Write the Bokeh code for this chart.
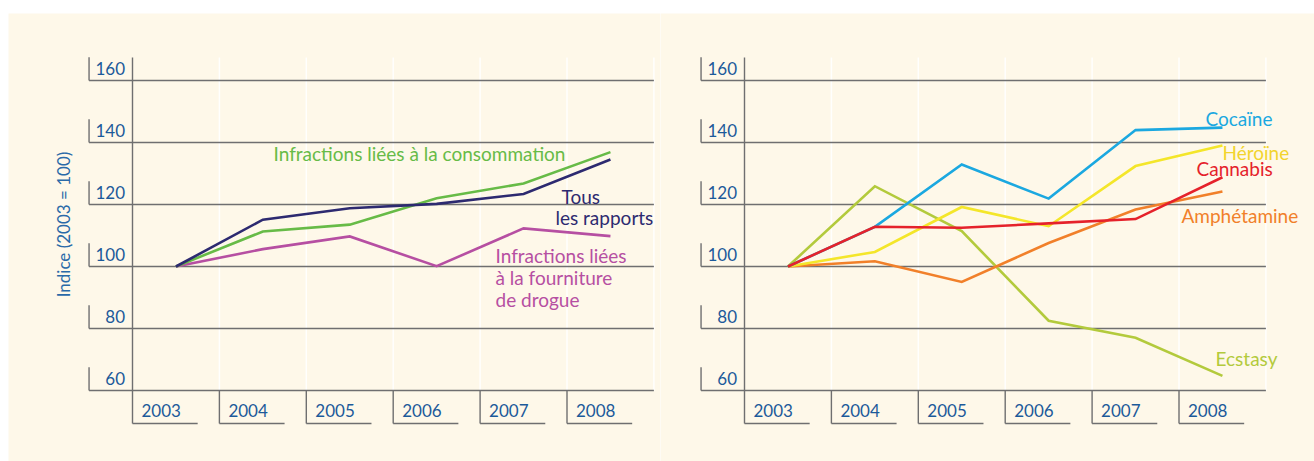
from bokeh.plotting import figure
from bokeh.layouts import row
from bokeh.models import Range1d
from bokeh.core.properties import value
from bokeh.embed import file_html
from bokeh.resources import INLINE

# ---------------- data ----------------
years = ["2003", "2004", "2005", "2006", "2007", "2008"]
y_ticks = [60, 80, 100, 120, 140, 160]
y_title = "Indice (2003 = 100)"

# left panel
tous_rapports = [100, 115.1, 118.8, 120.2, 123.4, 134.5]
consommation = [100, 111.3, 113.5, 122.0, 126.8, 136.9]
fourniture = [100, 105.6, 109.7, 100.1, 112.3, 109.8]

# right panel
cocaine = [100, 112.8, 132.9, 121.9, 144.0, 144.8]
heroine = [100, 104.7, 119.2, 113.0, 132.4, 139.0]
cannabis = [100, 112.8, 112.5, 113.9, 115.3, 128.8]
amphetamine = [100, 101.7, 95.0, 107.6, 118.4, 124.2]
ecstasy = [100, 125.9, 111.4, 82.5, 77.0, 64.7]

# ---------------- style ----------------
CREAM = "#fef8e9"
GRID = "#6f6f70"
TICK = "#1c5a9a"
FONT = "Lato"
PX_CAT = 86.9     # px per category
PX_UNIT = 3.1     # px per index unit
H = 461
TOP_PAD = 13
Y100 = 266        # page y of the 100 line

frame_h = H - TOP_PAD
y_top = 100 + (Y100 - TOP_PAD) / PX_UNIT
y_bot = y_top - frame_h / PX_UNIT
AX_TOP = 100 + (Y100 - 57) / PX_UNIT
BOX_BOT = 100 - (423 - Y100) / PX_UNIT
n = len(years)
xs = list(range(n))


def lx(px, c):
    return (px - c) / PX_CAT


def ly(py):
    return 100 + (Y100 - py) / PX_UNIT


def panel(width, page_left, border_left, center, series, labels, title=None):
    frame_left = page_left + border_left
    x0 = (frame_left - center) / PX_CAT
    x1 = x0 + (width - border_left) / PX_CAT
    p = figure(width=width, height=H, x_range=Range1d(x0, x1), y_range=Range1d(y_bot, y_top),
               x_axis_type=None, y_axis_type=None, toolbar_location=None,
               output_backend="svg", min_border_left=border_left, min_border_right=0,
               min_border_top=TOP_PAD, min_border_bottom=0,
               background_fill_color=CREAM, border_fill_color="white",
               outline_line_color=None)
    p.title.visible = False
    lo = y_ticks[0]
    # faint white category separators
    p.segment(x0=[i - 0.5 for i in range(1, n + 1)], x1=[i - 0.5 for i in range(1, n + 1)],
              y0=[lo] * n, y1=[AX_TOP] * n, line_color="white", line_width=1.5, line_alpha=0.9)
    # horizontal gridlines
    p.segment(x0=[-1.0] * len(y_ticks), x1=[n - 0.5] * len(y_ticks), y0=y_ticks, y1=y_ticks,
              line_color=GRID, line_width=1.4)
    # tick brackets
    p.segment(x0=[-1.0] * len(y_ticks), x1=[-1.0] * len(y_ticks), y0=y_ticks,
              y1=[t + 7.5 for t in y_ticks], line_color=GRID, line_width=1.4)
    # main vertical axis
    p.segment(x0=[-0.5], x1=[-0.5], y0=[BOX_BOT], y1=[AX_TOP], line_color=GRID, line_width=1.4)
    # category boxes
    p.segment(x0=[i - 0.5 for i in range(1, n)], x1=[i - 0.5 for i in range(1, n)],
              y0=[BOX_BOT] * (n - 1), y1=[lo] * (n - 1), line_color=GRID, line_width=1.4)
    p.segment(x0=[i - 0.5 for i in xs], x1=[i - 0.5 + 0.75 for i in xs],
              y0=[BOX_BOT] * n, y1=[BOX_BOT] * n, line_color=GRID, line_width=1.4)
    # tick labels
    p.text(x=[-0.5 - 7.5 / PX_CAT] * len(y_ticks), y=[t + 12 / PX_UNIT for t in y_ticks],
           text=[str(t) for t in y_ticks], text_align="right", text_baseline="middle",
           text_font=value(FONT), text_font_size="17px", text_color=TICK)
    p.text(x=[i - 0.5 + 9 / PX_CAT for i in xs], y=[ly(410)] * n,
           text=years, text_align="left", text_baseline="middle",
           text_font=value(FONT), text_font_size="17px", text_color=TICK)
    # series
    for vals, color in series:
        p.line(xs, vals, line_color=color, line_width=2.6, line_join="miter")
    # annotations
    for txt, x, y, color in labels:
        p.text(x=[x], y=[y], text=[txt], text_align="left", text_baseline="middle",
               text_font=value(FONT), text_font_size="19px", text_color=color)
    if title:
        p.text(x=[lx(63, center)], y=[ly(224)],
               text=[title], angle=1.5707963, text_align="center", text_baseline="middle",
               text_font=value(FONT), text_font_size="17px", text_color="#2a6aa8")
    return p


LC = 175.45
left_series = [(fourniture, "#b64fa2"), (consommation, "#67bb47"), (tous_rapports, "#2d2a70")]
left_labels = [
    ("Infractions liées à la consommation", lx(273, LC), ly(153), "#67bb47"),
    ("Tous", lx(561, LC), ly(196), "#2d2a70"),
    ("les rapports", lx(555, LC), ly(217), "#2d2a70"),
    ("Infractions liées", lx(495, LC), ly(255), "#b64fa2"),
    ("à la fourniture", lx(495, LC), ly(277), "#b64fa2"),
    ("de drogue", lx(495, LC), ly(299), "#b64fa2"),
]

RC = 787.45
right_series = [(ecstasy, "#b3ca3c"), (amphetamine, "#f1802a"), (heroine, "#f4e62a"),
                (cocaine, "#1ba8e0"), (cannabis, "#e5222b")]
right_labels = [
    ("Cocaïne", lx(1205, RC), ly(118), "#1ba8e0"),
    ("Héroïne", lx(1222, RC), ly(152), "#f2d42e"),
    ("Cannabis", lx(1196, RC), ly(168), "#e5222b"),
    ("Amphétamine", lx(1181, RC), ly(215), "#f1802a"),
    ("Ecstasy", lx(1215, RC), ly(358), "#b3ca3c"),
]

W1 = 660
W2 = 1314 - W1
p1 = panel(W1, 0, 8, LC, left_series, left_labels, title=y_title)
p2 = panel(W2, W1, 0, RC, right_series, right_labels)

layout = row(p1, p2, spacing=0)
open("out.html", "w").write(file_html(layout, INLINE))
